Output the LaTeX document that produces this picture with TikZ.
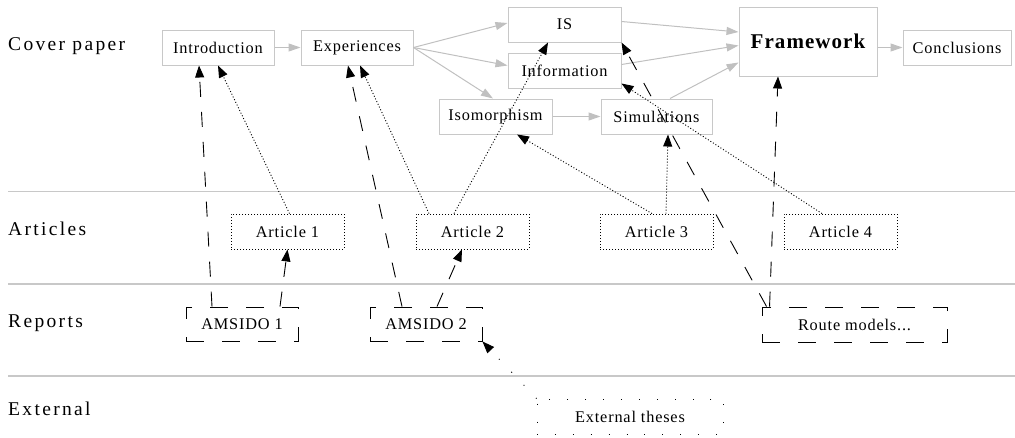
\documentclass[tikz,border=0pt]{standalone}
\usepackage{fontspec}
\setmainfont{Liberation Serif}
\newfontfamily\boxfont[LetterSpace=5]{Liberation Serif}
\newfontfamily\lanefont[LetterSpace=12]{Liberation Serif}
\newfontfamily\headfont[LetterSpace=5]{Liberation Serif}
\usetikzlibrary{arrows.meta}
\definecolor{edgegray}{RGB}{192,192,192}
\definecolor{boxgray}{RGB}{200,200,200}
\tikzset{
  basebox/.style={inner sep=0pt, minimum height=35pt, minimum width=113pt,
    font=\boxfont\fontsize{16.3}{19}\selectfont},
  cover/.style={basebox, draw=boxgray, line width=1pt},
  article/.style={basebox, draw=black, line width=0.9pt, dash pattern=on 1pt off 2pt},
  report/.style={basebox, draw=black, line width=0.9pt, dash pattern=on 18pt off 18pt},
  extbox/.style={basebox, draw=black, line width=0.9pt, dash pattern=on 0.9pt off 17pt},
  lane/.style={anchor=base west, inner sep=0pt, font=\lanefont\fontsize{19.5}{22}\selectfont},
  divider/.style={draw=boxgray, line width=1.3pt},
  flow/.style={draw=edgegray, line width=1pt, -{Triangle[length=12pt,width=8pt]}},
  blackhead/.style={-{Triangle[length=12pt,width=9pt]}, line width=0.9pt, black},
  dotref/.style={blackhead, dash pattern=on 1pt off 2pt},
  dashref/.style={blackhead, dash pattern=on 15pt off 15pt},
  sparseref/.style={blackhead, dash pattern=on 0.9pt off 17pt},
}
\begin{document}
\begin{tikzpicture}[x=1pt,y=-1pt]
\useasboundingbox (0,0) rectangle (1015,437);

% swim lanes
\draw[divider] (8,191.5) -- (1015,191.5);
\draw[divider] (8,284) -- (1015,284);
\draw[divider] (8,376) -- (1015,376);
\node[lane] (lcover) at (8,50.5) {Cover paper};
\node[lane] (larticles) at (8,235) {Articles};
\node[lane] (lreports) at (8,327) {Reports};
\node[lane] (lexternal) at (8,415) {External};

% cover paper chapters
\node[cover, minimum width=112pt] (intro) at (218,47.5) {Introduction};
\node[cover, minimum width=112pt] (exp) at (357,47.5) {Experiences};
\node[cover] (is) at (564.5,24.5) {IS};
\node[cover] (info) at (564.5,70.5) {Information};
\node[cover] (iso) at (495.5,116.5) {Isomorphism};
\node[cover, minimum width=111pt] (sim) at (656.5,116.5) {Simulations};
\node[cover, minimum width=138pt, minimum height=69pt,
      font=\headfont\bfseries\fontsize{21}{24}\selectfont] (fw) at (808,41.5) {Framework};
\node[cover, minimum width=108pt] (concl) at (957,47.5) {Conclusions};

% articles
\node[article] (art1) at (287.5,231.5) {Article 1};
\node[article] (art2) at (472.5,231.5) {Article 2};
\node[article] (art3) at (656.5,231.5) {Article 3};
\node[article] (art4) at (840.5,231.5) {Article 4};

% reports
\node[report, minimum width=112pt, minimum height=34pt] (am1) at (242,324) {AMSIDO 1};
\node[report, minimum width=112pt, minimum height=34pt] (am2) at (426,324) {AMSIDO 2};
\node[report, minimum width=185pt] (route) at (854.5,324.5) {Route models...};

% external
\node[extbox, minimum width=186pt] (ext) at (630,416.5) {External theses};

% chapter order
\draw[flow] (intro.east) -- (exp.west);
\draw[flow] (exp.east) -- ([yshift=1.5pt]is.west);
\draw[flow] (exp.east) -- ([yshift=5pt]info.west);
\draw[flow] (exp.east) -- ([xshift=-2.5pt]iso.north);
\draw[flow] (iso.east) -- (sim.west);
\draw[flow] ([yshift=3pt]is.east) -- ([yshift=9.5pt]fw.west);
\draw[flow] ([yshift=6pt]info.east) -- ([yshift=-4pt]fw.west);
\draw[flow] ([xshift=13.5pt]sim.north) -- ([yshift=-21pt]fw.west);
\draw[flow] (fw.east |- concl.west) -- (concl.west);

% sources of the chapters
\draw[dotref] ([xshift=2pt]art1.north) -- (intro.south);
\draw[dashref] ([xshift=-30pt]am1.north) -- ([xshift=-19pt]intro.south);
\draw[dashref] ([xshift=38pt]am1.north) -- (art1.south);
\draw[dotref] ([xshift=-43.5pt]art2.north) -- ([xshift=3pt]exp.south);
\draw[dashref] ([xshift=-24pt]am2.north) -- ([xshift=-9pt]exp.south);
\draw[dotref] ([xshift=-18.5pt]art2.north) -- ([xshift=-16.5pt]is.south);
\draw[dashref] ([xshift=11pt]am2.north) -- ([xshift=-10.5pt]art2.south);
\draw[dotref] ([xshift=-4.5pt]art3.north) -- ([xshift=21.5pt]iso.south);
\draw[dotref] ([xshift=9.5pt]art3.north) -- ([xshift=11.5pt]sim.south);
\draw[dotref] ([xshift=-18.5pt]art4.north) -- ([yshift=-13pt]info.east);
\draw[dashref] ([xshift=5pt]route.north west) -- (is.south east);
\draw[dashref] ([xshift=8pt]route.north west) -- ([xshift=-30pt]fw.south);
\draw[sparseref] (ext.north west) -- (am2.south east);
\end{tikzpicture}
\end{document}
